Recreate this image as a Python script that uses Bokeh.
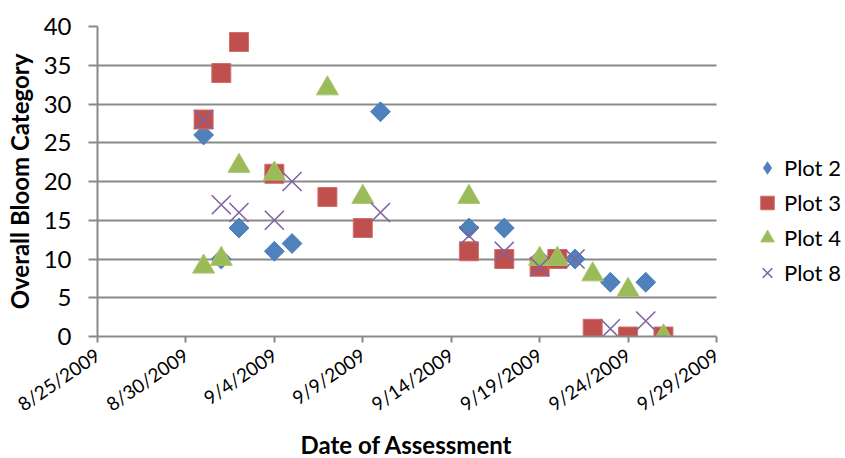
import pandas as pd
from bokeh.plotting import figure
from bokeh.models import Range1d, FixedTicker, Legend, LegendItem, Title
from bokeh.embed import file_html
from bokeh.resources import INLINE

# ---- data -------------------------------------------------------------
plot2_dates = ["2009-08-31", "2009-09-01", "2009-09-02", "2009-09-04", "2009-09-05",
               "2009-09-10", "2009-09-15", "2009-09-17", "2009-09-19", "2009-09-21",
               "2009-09-23", "2009-09-25"]
plot2_vals = [26, 10, 14, 11, 12, 29, 14, 14, 10, 10, 7, 7]

plot3_dates = ["2009-08-31", "2009-09-01", "2009-09-02", "2009-09-04", "2009-09-07",
               "2009-09-09", "2009-09-15", "2009-09-17", "2009-09-19", "2009-09-20",
               "2009-09-22", "2009-09-24", "2009-09-26"]
plot3_vals = [28, 34, 38, 21, 18, 14, 11, 10, 9, 10, 1, 0, 0]

plot4_dates = ["2009-08-31", "2009-09-01", "2009-09-02", "2009-09-04", "2009-09-07",
               "2009-09-09", "2009-09-15", "2009-09-19", "2009-09-20", "2009-09-22",
               "2009-09-24", "2009-09-26"]
plot4_vals = [9, 10, 22, 21, 32, 18, 18, 10, 10, 8, 6, 0]

plot8_dates = ["2009-08-31", "2009-09-01", "2009-09-02", "2009-09-04", "2009-09-05",
               "2009-09-10", "2009-09-15", "2009-09-17", "2009-09-19", "2009-09-21",
               "2009-09-23", "2009-09-25"]
plot8_vals = [28, 17, 16, 15, 20, 16, 13, 11, 9, 10, 1, 2]

x_tick_dates = ["2009-08-25", "2009-08-30", "2009-09-04", "2009-09-09",
                "2009-09-14", "2009-09-19", "2009-09-24", "2009-09-29"]
x_tick_labels = ["8/25/2009", "8/30/2009", "9/4/2009", "9/9/2009",
                 "9/14/2009", "9/19/2009", "9/24/2009", "9/29/2009"]
y_ticks = [0, 5, 10, 15, 20, 25, 30, 35, 40]

FONT = "Lato"
GRID = "#898989"
BLUE, RED, GREEN, PURPLE = "#4F81BD", "#C0504D", "#9BBB59", "#8064A2"

# ---- layout -----------------------------------------------------------
W, H = 845, 458
LEFT, TOP, BOTTOM = 97, 26, 122
PLOT_W = 619          # pixels used by the dated part of the axis
tick_ts = pd.to_datetime(x_tick_dates)
span = tick_ts[-1] - tick_ts[0]
# the frame reaches the right edge so the legend can sit beside the data
x_end = tick_ts[0] + span * ((W - LEFT) / PLOT_W)

p = figure(width=W, height=H, x_axis_type="datetime",
           output_backend="svg", toolbar_location=None,
           x_range=Range1d(tick_ts[0], x_end), y_range=Range1d(0, 40),
           min_border_left=LEFT, min_border_right=0,
           min_border_top=TOP, min_border_bottom=BOTTOM)
p.outline_line_color = None
p.background_fill_color = "white"
p.border_fill_color = "white"

# x axis: one tick every five days with plain m/d/yyyy labels
tick_ms = [int(t.value // 10**6) for t in tick_ts]
p.xaxis.bounds = (tick_ts[0], tick_ts[-1])
p.xaxis.ticker = FixedTicker(ticks=tick_ms, minor_ticks=[])
p.xaxis.major_label_overrides = dict(zip(tick_ms, x_tick_labels))
p.xaxis.major_label_orientation = 0.6
p.xaxis.major_label_text_font = FONT
p.xaxis.major_label_text_font_size = "19px"
p.xaxis.major_label_text_color = "black"
p.xaxis.major_label_standoff = 10
p.xaxis.major_tick_out = 6
p.xaxis.major_tick_in = 0
p.xaxis.major_tick_line_color = GRID
p.xaxis.major_tick_line_width = 2
p.xaxis.axis_line_color = GRID
p.xaxis.axis_line_width = 2
p.xgrid.visible = False

# x axis title, centred under the dated part of the axis
x_title = Title(text="Date of Assessment", align="left", offset=203, standoff=0,
                text_font=FONT, text_font_style="bold", text_font_size="24px",
                text_color="black")
p.add_layout(x_title, "below")

# y axis
p.yaxis.ticker = FixedTicker(ticks=y_ticks, minor_ticks=[])
p.yaxis.major_label_text_font = FONT
p.yaxis.major_label_text_font_size = "24px"
p.yaxis.major_label_text_color = "black"
p.yaxis.major_label_standoff = 17
p.yaxis.major_tick_out = 9
p.yaxis.major_tick_in = 0
p.yaxis.major_tick_line_color = GRID
p.yaxis.major_tick_line_width = 2
p.yaxis.axis_line_color = GRID
p.yaxis.axis_line_width = 2
p.yaxis.axis_label = "Overall Bloom Category"
p.yaxis.axis_label_text_font = FONT
p.yaxis.axis_label_text_font_style = "bold"
p.yaxis.axis_label_text_font_size = "24px"
p.yaxis.axis_label_text_color = "black"
p.yaxis.axis_label_standoff = 7
p.ygrid.grid_line_color = GRID
p.ygrid.grid_line_width = 2
p.ygrid.cross_bounds = (tick_ms[0], tick_ms[-1])

# ---- series -----------------------------------------------------------
r2 = p.scatter(pd.to_datetime(plot2_dates), plot2_vals, marker="square",
               angle=0.785398, size=14, fill_color=BLUE, line_color="#4A7EBB")
r3 = p.scatter(pd.to_datetime(plot3_dates), plot3_vals, marker="square",
               size=19, fill_color=RED, line_color="#D0706D")
r4 = p.scatter(pd.to_datetime(plot4_dates), plot4_vals, marker="triangle",
               size=22, fill_color=GREEN, line_color="#A8C56E")
r8 = p.scatter(pd.to_datetime(plot8_dates), plot8_vals, marker="x",
               size=27, line_color=PURPLE, line_width=1.6)

# legend swatch for Plot 2 (legend glyphs are drawn unrotated, so use a diamond)
key2 = p.scatter(pd.to_datetime(plot2_dates), plot2_vals, marker="diamond",
                 size=0, fill_color=BLUE, line_color=None)

legend = Legend(items=[LegendItem(label="Plot 2", renderers=[key2]),
                       LegendItem(label="Plot 3", renderers=[r3]),
                       LegendItem(label="Plot 4", renderers=[r4]),
                       LegendItem(label="Plot 8", renderers=[r8])],
                location=(653, 46), orientation="vertical",
                glyph_width=34, glyph_height=35, spacing=0,
                label_standoff=0, padding=0, margin=0,
                label_text_font=FONT, label_text_font_size="22px",
                label_text_color="black",
                border_line_color=None, background_fill_alpha=0)
p.add_layout(legend, "center")

open("out.html", "w").write(file_html(p, INLINE))
